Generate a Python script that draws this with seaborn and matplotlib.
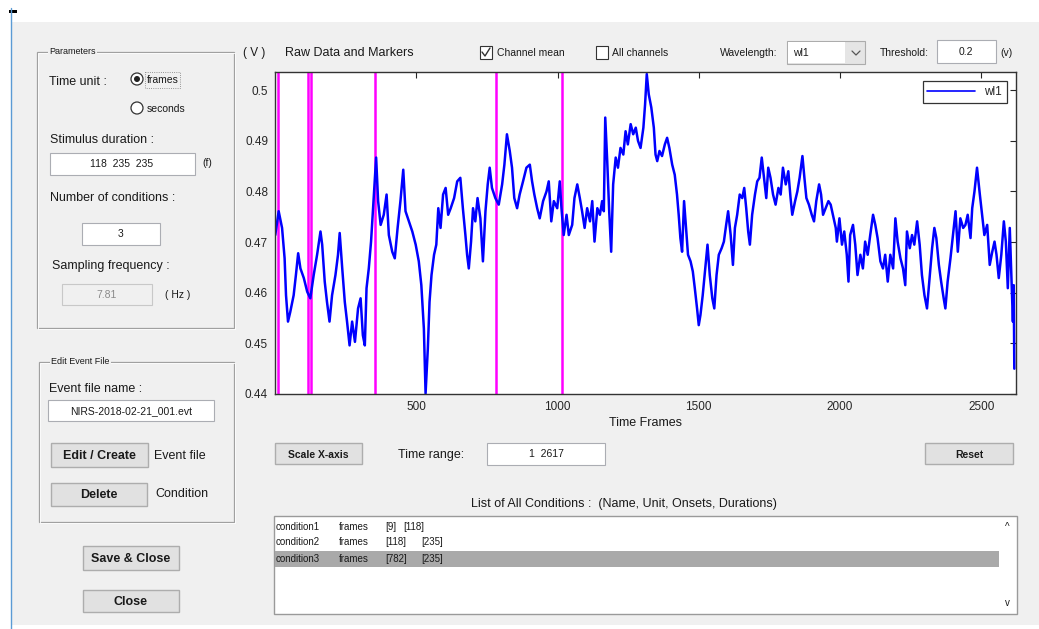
import numpy as np
import matplotlib
matplotlib.use("Agg")
import matplotlib.pyplot as plt
from matplotlib.patches import Rectangle, Circle
from matplotlib.ticker import FormatStrFormatter
import seaborn as sns

# ---------------- data ----------------
frames_a = [1,13,25,34,39,46,54,66,74,82,90,102,114,125,137,149,161,167,176,184,
            193,202,214,223,229,238,247,255,264,273,283,294,303,311,318,324,332,340,348,358,
            365,374,385,395,403,415,424,434,444,454,462,474,486,498,509,518,527,533,541,547,
            554,563,571,578,586,595,604,613,622,634,645]
values_a = [.4714,.4761,.4728,.4668,.4595,.4543,.4562,.4595,.4635,.4678,.4648,.4629,.4602,.4589,.4635,.4675,.4721,.4695,.4622,.4582,
            .4543,.4595,.4635,.4675,.4718,.4648,.4582,.4543,.4496,.4543,.4503,.4569,.4589,.4516,.4496,.4609,.4648,.4701,.4774,.4867,
            .4781,.4734,.4754,.4794,.4714,.4681,.4668,.4728,.4781,.4843,.4761,.4741,.4721,.4695,.4662,.4615,.4529,.4401,.4490,.4582,
            .4635,.4675,.4695,.4767,.4728,.4794,.4807,.4754,.4767,.4787,.4820]
frames_b = [656,665,674,680,686,694,701,709,717,727,736,745,753,760,768,780,792,804,812,821,
            831,839,847,857,866,878,890,902,910,918,928,937,949,961,969,978,987,999,1008,1014,
            1022,1032,1040,1052,1060,1070,1079,1087,1096,1105,1115,1123,1131,1141,1150,1158,1164,1169,1176,1183,
            1190,1197,1206,1214,1223,1233,1241,1249,1259,1268,1277,1285,1294,1304,1310,1316]
values_b = [.4827,.4767,.4714,.4675,.4648,.4701,.4767,.4741,.4787,.4747,.4662,.4761,.4814,.4847,.4807,.4787,.4774,.4814,.4853,.4913,
            .4880,.4847,.4787,.4767,.4794,.4820,.4847,.4853,.4820,.4794,.4767,.4747,.4781,.4800,.4820,.4741,.4781,.4767,.4820,.4767,
            .4714,.4754,.4714,.4734,.4787,.4814,.4787,.4761,.4728,.4767,.4741,.4781,.4701,.4767,.4754,.4781,.4761,.4946,.4860,.4761,
            .4681,.4814,.4867,.4847,.4886,.4873,.4919,.4893,.4933,.4913,.4926,.4900,.4886,.4926,.4972,.5032]
frames_c = [1323,1332,1341,1347,1353,1361,1370,1380,1388,1396,1406,1415,1423,1429,1435,1441,1448,1455,1462,1471,
            1479,1486,1494,1500,1506,1514,1524,1531,1539,1548,1555,1563,1571,1581,1589,1597,1604,1613,1621,1628,
            1636,1645,1654,1661,1668,1675,1681,1689,1699,1707,1715,1723,1731,1739,1746,1754,1763,1772,1782,1790,
            1798,1808,1817,1825,1831,1841,1849,1857,1867,1874,1881,1890,1900,1908,1916,1926,1933,1940,1949,1959,
            1967,1975,1985]
values_c = [.4992,.4966,.4926,.4873,.4860,.4880,.4870,.4893,.4906,.4886,.4853,.4833,.4794,.4754,.4708,.4681,.4781,.4728,.4675,.4662,
            .4642,.4609,.4569,.4536,.4556,.4595,.4655,.4695,.4635,.4589,.4569,.4635,.4675,.4688,.4701,.4734,.4761,.4714,.4655,.4728,
            .4754,.4794,.4787,.4807,.4767,.4721,.4695,.4754,.4794,.4820,.4827,.4867,.4827,.4787,.4847,.4827,.4794,.4774,.4807,.4794,
            .4847,.4814,.4840,.4787,.4754,.4781,.4800,.4827,.4870,.4827,.4787,.4774,.4754,.4741,.4781,.4814,.4794,.4754,.4767,.4781,
            .4774,.4754,.4728]
frames_d = [1989,1998,2007,2015,2024,2030,2036,2046,2054,2062,2072,2081,2089,2098,2107,2117,2125,2133,2143,2152,
            2160,2169,2178,2188,2196,2204,2214,2223,2231,2237,2247,2255,2263,2273,2282,2290,2299,2308,2318,2326,
            2334,2341,2350,2358,2367,2373,2381,2391,2400,2409,2417,2426,2436,2444,2452,2462,2468,2476,2485,2495,
            2503,2511,2521,2530,2539,2547,2554,2562,2571,2580,2587,2594,2601,2608,2612,2615,2617]
values_d = [.4701,.4747,.4695,.4721,.4675,.4622,.4714,.4734,.4695,.4635,.4675,.4648,.4701,.4675,.4714,.4754,.4734,.4708,.4662,.4648,
            .4675,.4622,.4675,.4648,.4747,.4701,.4668,.4648,.4615,.4721,.4688,.4714,.4695,.4741,.4695,.4635,.4595,.4569,.4635,.4688,
            .4728,.4708,.4655,.4622,.4589,.4569,.4622,.4668,.4714,.4761,.4681,.4747,.4728,.4734,.4754,.4708,.4767,.4800,.4847,.4794,
            .4754,.4714,.4734,.4655,.4681,.4701,.4675,.4629,.4675,.4741,.4701,.4609,.4728,.4609,.4543,.4615,.4450]

cond_names = ["condition1", "condition2", "condition3"]
cond_onsets = [9, 118, 782]
cond_durations = [118, 235, 235]
x_ticks = [500, 1000, 1500, 2000, 2500]
y_ticks = [0.44, 0.45, 0.46, 0.47, 0.48, 0.49, 0.50]
series_label = "wl1"

frames = frames_a + frames_b + frames_c + frames_d
values = values_a + values_b + values_c + values_d

# ---------------- figure ----------------
sns.set_style("white")
plt.rcParams['font.family'] = ['Liberation Sans', 'DejaVu Sans']

W, H = 1039, 629
fig = plt.figure(figsize=(W / 100, H / 100), dpi=100)
fig.patch.set_facecolor("white")

bg = fig.add_axes([0, 0, 1, 1], zorder=0)
bg.set_xlim(0, W)
bg.set_ylim(H, 0)
bg.axis("off")

GRAY = "#f0f0f0"
bg.add_patch(Rectangle((12, 22), W - 12, 603, fc=GRAY, ec="none"))
bg.plot([11, 11], [8, H], color="#5b9bd5", lw=1)
bg.add_patch(Rectangle((9, 10), 8, 3, fc="black", ec="none"))


def txt(x, y, s, size=8.5, ha="left", color="#1a1a1a", weight="normal", **kw):
    bg.text(x, y, s, fontsize=size, ha=ha, va="center", color=color, fontweight=weight, **kw)


def box(x0, y0, x1, y1, fc="white", ec="#abadb3", lw=0.8):
    bg.add_patch(Rectangle((x0, y0), x1 - x0, y1 - y0, fc=fc, ec=ec, lw=lw))


def button(x0, y0, x1, y1, label, size=8.5):
    box(x0, y0, x1, y1, fc="#e1e1e1", ec="#adadad", lw=1)
    txt((x0 + x1) / 2, (y0 + y1) / 2 + 1, label, size=size, ha="center", weight="bold")


def group(x0, y0, x1, y1, title):
    bg.add_patch(Rectangle((x0, y0), x1 - x0, y1 - y0, fc="none", ec="#a0a0a0", lw=0.9))
    bg.add_patch(Rectangle((x0 + 1, y0 + 1), x1 - x0, y1 - y0, fc="none", ec="white", lw=0.6))
    bg.text(x0 + 12, y0, title, fontsize=6.5, ha="left", va="center", color="#1a1a1a",
            bbox=dict(fc=GRAY, ec="none", pad=1))


# Parameters group
group(37, 52, 234, 328, "Parameters")
txt(49, 82, "Time unit :", 9)
bg.add_patch(Circle((137, 79), 6, fc="white", ec="#333333", lw=0.9))
bg.add_patch(Circle((137, 79), 3, fc="#222222", ec="none"))
txt(147, 80, "frames", 7.5)
bg.add_patch(Rectangle((145, 72), 35, 16, fc="none", ec="#777777", lw=0.6, ls=":"))
bg.add_patch(Circle((137, 108), 6, fc="white", ec="#333333", lw=0.9))
txt(147, 109, "seconds", 7.5)
txt(50, 140, "Stimulus duration :", 9)
box(50, 153, 195, 175)
txt(122, 164, "118  235  235", 7.5, ha="center")
txt(202, 163, "(f)", 7.5)
txt(50, 198, "Number of conditions :", 9)
box(82, 223, 160, 245)
txt(121, 234, "3", 7.5, ha="center")
txt(52, 266, "Sampling frequency :", 9)
box(62, 284, 152, 305, fc=GRAY, ec="#c8c8c8")
txt(107, 295, "7.81", 7.5, ha="center", color="#8a8a8a")
txt(165, 295, "( Hz )", 7.5)

# Edit Event File group
group(39, 362, 234, 522, "Edit Event File")
txt(49, 389, "Event file name :", 9)
box(48, 400, 214, 421)
txt(131, 411, "NIRS-2018-02-21_001.evt", 7.5, ha="center")
button(51, 443, 148, 467, "Edit / Create", 9)
txt(154, 456, "Event file", 9)
button(51, 483, 147, 506, "Delete", 9)
txt(155, 494, "Condition", 9)
button(83, 546, 179, 570, "Save & Close", 9)
button(83, 590, 179, 612, "Close", 9)

# Top controls
txt(243, 53, "( V )", 8.5)
txt(285, 53, "Raw Data and Markers", 9)
box(480, 46, 492, 59, fc="white", ec="#333333")
bg.plot([482, 485, 490], [52, 56, 48], color="#333333", lw=1)
txt(497, 53, "Channel mean", 7.5)
box(596, 46, 608, 59, fc="white", ec="#333333")
txt(612, 53, "All channels", 7.5)
txt(720, 53, "Wavelength:", 7.5)
box(787, 41, 865, 64, fc="#e5e5e5", ec="#acacac")
box(788, 42, 845, 63, fc="white", ec="none")
txt(793, 53, series_label, 7.5)
bg.plot([852, 856, 860], [51, 55, 51], color="#555555", lw=0.9)
txt(880, 53, "Threshold:", 7.5)
box(937, 40, 996, 63)
txt(966, 52, "0.2", 7.5, ha="center")
txt(1000, 53, "(v)", 7.5)

# Below plot controls
button(275, 443, 362, 464, "Scale X-axis", 7.5)
txt(398, 455, "Time range:", 9)
box(487, 443, 605, 465)
txt(546, 454, "1  2617", 7.5, ha="center")
button(925, 443, 1013, 464, "Reset", 7.5)

txt(624, 504, "List of All Conditions :  (Name, Unit, Onsets, Durations)", 9, ha="center")
box(274, 516, 1017, 614, fc="white", ec="#9a9a9a", lw=1)
bg.add_patch(Rectangle((275, 551), 724, 16, fc="#a9a9a9", ec="none"))
row_y = [527, 542, 559]
for i, name in enumerate(cond_names):
    y = row_y[i]
    txt(276, y, name, 7)
    txt(339, y, "frames", 7)
    txt(385, y, "[%d]" % cond_onsets[i], 7)
    txt(403 if cond_onsets[i] < 100 else 421, y, "[%d]" % cond_durations[i], 7)
txt(1007, 527, "^", 7, ha="center")
txt(1007, 603, "v", 7, ha="center")

# ---------------- main plot ----------------
ax = fig.add_axes([275 / W, 1 - 394 / H, 741 / W, (394 - 72) / H], zorder=2)
ax.set_facecolor("white")
for onset, dur in zip(cond_onsets, cond_durations):
    ax.axvline(onset, color="#ff00ff", lw=1.8, zorder=1)
    ax.axvline(onset + dur, color="#ff00ff", lw=1.8, zorder=1)

sns.lineplot(x=frames, y=values, ax=ax, color="#0000ff", lw=1.8, label=series_label,
             estimator=None, sort=False, zorder=2)

ax.set_xlim(0, 2623)
ax.set_ylim(0.44, 0.5036)
ax.set_xticks(x_ticks)
ax.set_yticks(y_ticks)
ax.yaxis.set_major_formatter(FormatStrFormatter("%g"))
ax.tick_params(direction="in", top=True, right=True, length=4, width=0.8,
               labelsize=8.5, colors="#262626", pad=5)
for s in ax.spines.values():
    s.set_color("#333333")
    s.set_linewidth(1)
ax.set_xlabel("Time Frames", fontsize=9, color="#1a1a1a", labelpad=3)
ax.set_ylabel("")
leg = ax.legend(loc="upper right", fontsize=8.5, frameon=True, fancybox=False,
                edgecolor="black", handlelength=4, borderaxespad=0.8)
leg.get_frame().set_linewidth(0.9)
for line in leg.get_lines():
    line.set_linewidth(1.2)

fig.savefig("out.png", dpi=100)
